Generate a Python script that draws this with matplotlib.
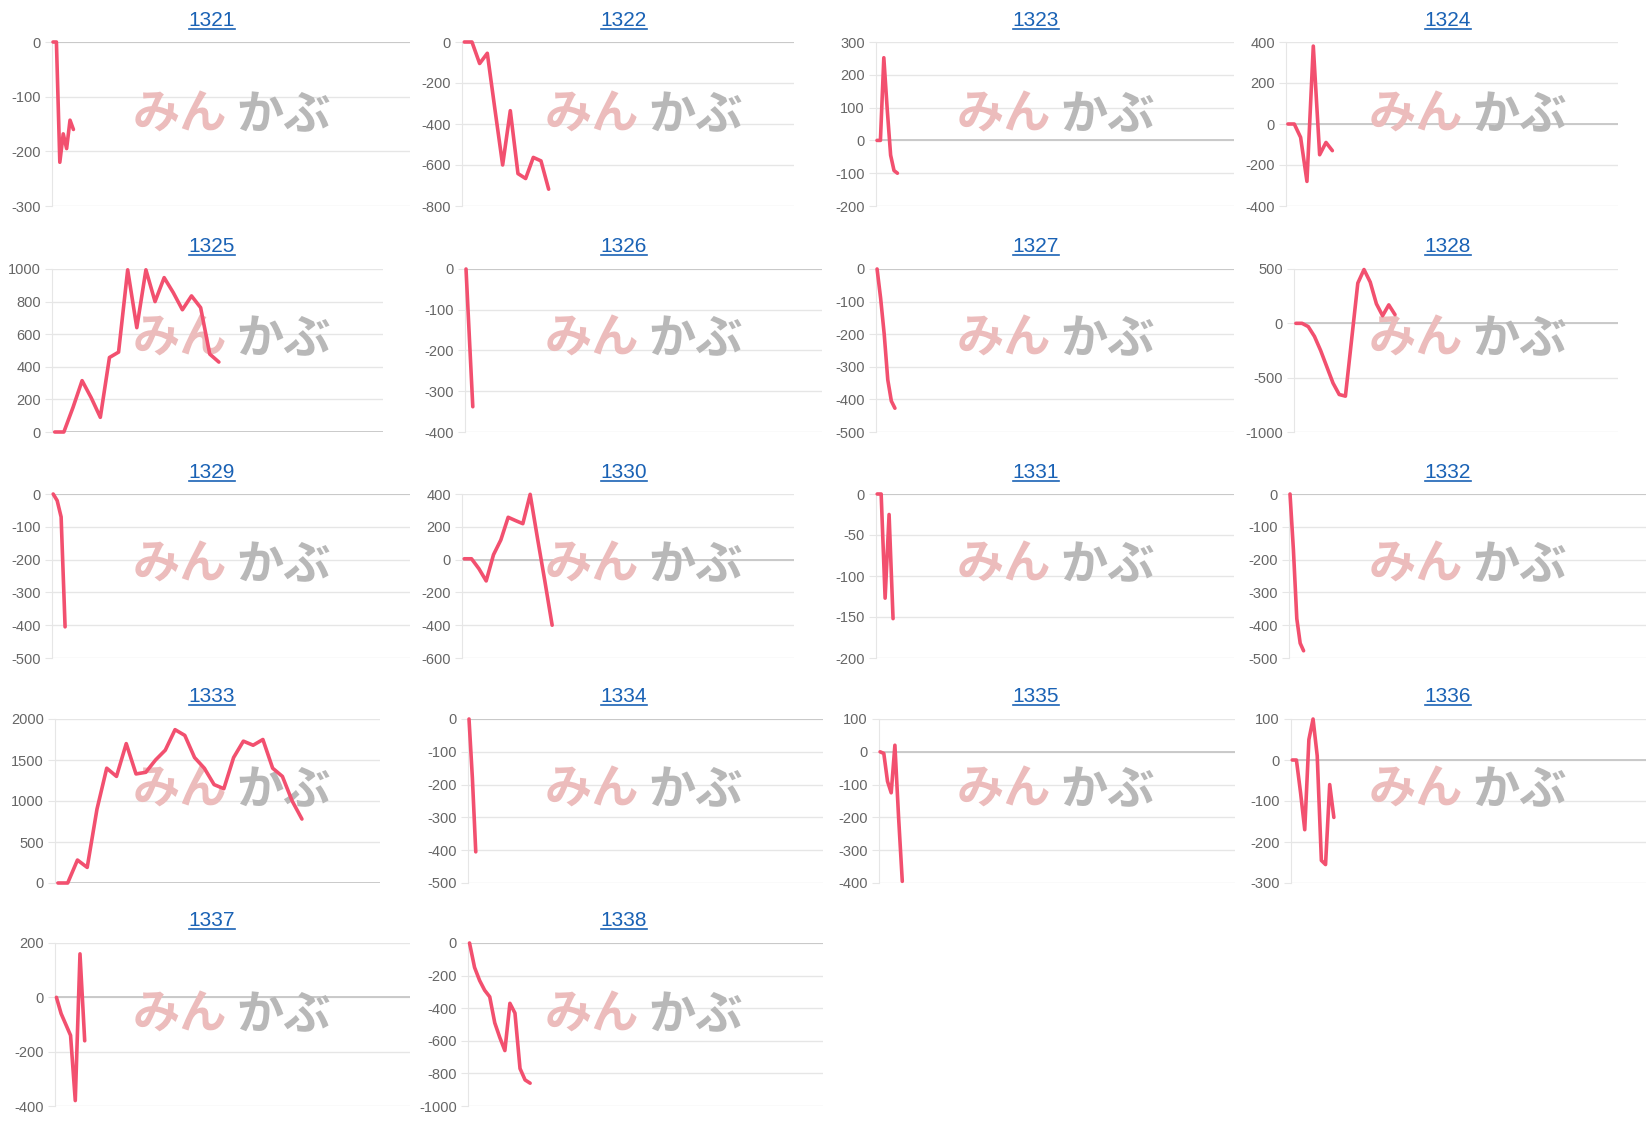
import numpy as np
import matplotlib
matplotlib.use("Agg")
import matplotlib.pyplot as plt
from matplotlib.lines import Line2D

plt.rcParams['font.family'] = ['Liberation Sans', 'DejaVu Sans']
plt.rcParams['axes.unicode_minus'] = False

W, H = 1648, 1125

# chart data (one series per stock code)
codes = ['1321', '1322', '1323', '1324', '1325', '1326', '1327', '1328', '1329',
         '1330', '1331', '1332', '1333', '1334', '1335', '1336', '1337', '1338']

s1321 = [0, 0, -220, -168, -195, -143, -160]
s1322 = [0, 0, -105, -55, -330, -600, -335, -642, -666, -563, -580, -718]
s1323 = [0, 0, 252, 95, -45, -92, -100]
s1324 = [0, 0, -65, -280, 380, -150, -90, -130]
s1325 = [0, 0, 150, 315, 210, 90, 457, 490, 995, 640, 995, 800, 947, 855, 750, 835, 763, 478, 429]
s1326 = [0, -170, -338]
s1327 = [0, -90, -200, -340, -405, -427]
s1328 = [0, 0, -30, -120, -250, -400, -550, -655, -670, -150, 370, 495, 380, 180, 70, 170, 80]
s1329 = [0, -20, -70, -405]
s1330 = [5, 5, -55, -130, 30, 120, 258, 238, 219, 398, 130, -130, -400]
s1331 = [0, 0, -127, -25, -152]
s1332 = [0, -170, -380, -455, -478]
s1333 = [0, 0, 280, 190, 900, 1400, 1300, 1700, 1330, 1350, 1500, 1620, 1870,
         1800, 1530, 1400, 1200, 1150, 1530, 1730, 1680, 1750, 1400, 1300, 1000, 780]
s1334 = [0, -180, -405]
s1335 = [0, -5, -90, -125, 20, -200, -395]
s1336 = [0, 0, -80, -170, 50, 100, 10, -245, -255, -60, -140]
s1337 = [0, -60, -100, -140, -380, 160, -160]
s1338 = [0, -150, -230, -290, -330, -490, -580, -660, -370, -430, -770, -840, -860]

series = [s1321, s1322, s1323, s1324, s1325, s1326, s1327, s1328, s1329,
          s1330, s1331, s1332, s1333, s1334, s1335, s1336, s1337, s1338]

y_min = [-300, -800, -200, -400, 0, -400, -500, -1000, -500,
         -600, -200, -500, 0, -500, -400, -300, -400, -1000]
y_max = [0, 0, 300, 400, 1000, 0, 0, 500, 0,
         400, 0, 0, 2000, 0, 100, 100, 200, 0]
y_step = [100, 200, 100, 200, 200, 100, 100, 500, 100,
          200, 50, 100, 500, 100, 100, 100, 200, 200]
x_span = [105, 43, 105, 52, 36, 105, 100, 52, 90,
          45, 90, 105, 33, 105, 96, 85, 75, 70]

# layout (pixels)
plot_lr = [(52, 410), (462, 794), (876, 1234), (1286, 1618),
           (52, 383), (465, 822), (876, 1234), (1294, 1618),
           (52, 410), (462, 794), (876, 1234), (1289, 1646),
           (55, 380), (468, 823), (879, 1235), (1291, 1646),
           (55, 410), (468, 823)]
row_top = [42, 269, 494, 719, 943]
row_bot = [206, 432, 658, 883, 1106]
title_y = [21, 247, 473, 697, 921]
wm_y = [115, 339, 565, 790, 1015]

line_color = '#f2506f'
grid_color = '#e6e6e6'

fig = plt.figure(figsize=(W / 100, H / 100), dpi=100)

titles = []
for i, code in enumerate(codes):
    r, c = divmod(i, 4)
    left, right = plot_lr[i]
    top, bot = row_top[r], row_bot[r]
    ax = fig.add_axes([left / W, 1 - bot / H, (right - left) / W, (bot - top) / H])
    ax.patch.set_alpha(0)

    vals = series[i]
    ax.plot(range(len(vals)), vals, color=line_color, lw=2.6,
            solid_joinstyle='round', solid_capstyle='round', zorder=3, clip_on=False)

    ax.set_xlim(-0.3, x_span[i])
    ax.set_ylim(y_min[i], y_max[i])
    ax.set_yticks(np.arange(y_min[i], y_max[i] + 1, y_step[i]))
    ax.set_xticks([])
    ax.grid(axis='y', color=grid_color, lw=1)
    ax.axhline(0, color='#c6c6c6', lw=1.3, zorder=1.6)
    for side in ['top', 'right', 'bottom']:
        ax.spines[side].set_visible(False)
    ax.spines['left'].set_color(grid_color)
    ax.tick_params(axis='y', length=5, color=grid_color, labelsize=10.5,
                   labelcolor='#666666', pad=3)

    # watermark logo
    x0 = 412 * c
    ax.text((x0 + 180) / W, 1 - wm_y[r] / H, 'みん', transform=fig.transFigure,
            family=['Noto Sans CJK JP'], fontweight='bold', fontsize=34,
            color='#ecbcbc', ha='center', va='center', zorder=1.8)
    ax.text((x0 + 284) / W, 1 - wm_y[r] / H, 'かぶ', transform=fig.transFigure,
            family=['Noto Sans CJK JP'], fontweight='bold', fontsize=34,
            color='#b8b8b8', ha='center', va='center', zorder=1.8)

    t = fig.text((206 + 412 * c + 6) / W, 1 - title_y[r] / H, code,
                 ha='center', va='center', fontsize=15, color='#1a62b5')
    titles.append(t)

# underline the titles like links
fig.canvas.draw()
renderer = fig.canvas.get_renderer()
for t in titles:
    bb = t.get_window_extent(renderer)
    yy = (bb.y0 + 1.5) / H
    fig.add_artist(Line2D([bb.x0 / W, bb.x1 / W], [yy, yy],
                          transform=fig.transFigure, color='#1a62b5', lw=1.2))

fig.savefig('out.png', dpi=100)
